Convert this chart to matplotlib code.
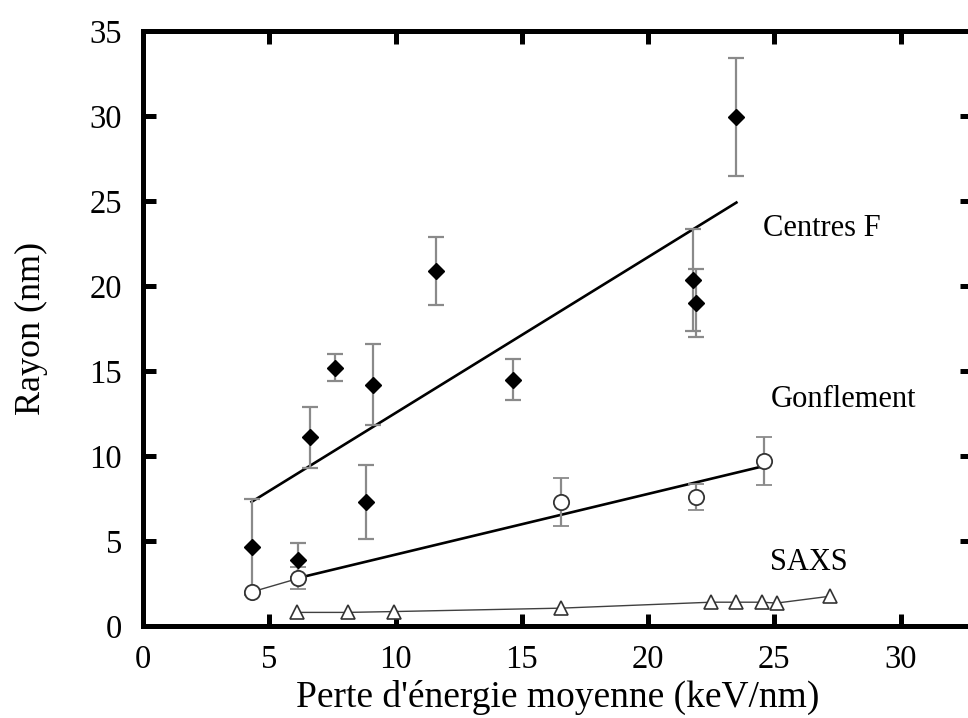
import numpy as np
import matplotlib
matplotlib.use("Agg")
import matplotlib.pyplot as plt

plt.rcParams['font.family'] = ['Liberation Serif', 'DejaVu Serif']

# Centres F (filled diamonds)
cf_x = [4.3, 6.15, 6.6, 7.6, 8.85, 9.1, 11.6, 14.65, 21.8, 21.9, 23.5]
cf_y = [4.65, 3.9, 11.1, 15.2, 7.3, 14.2, 20.9, 14.5, 20.35, 19.0, 29.95]
cf_err = [2.85, 1.0, 1.8, 0.8, 2.2, 2.4, 2.0, 1.2, 3.0, 2.0, 3.45]

# Gonflement (open circles)
gf_x = [4.3, 6.15, 16.55, 21.9, 24.6]
gf_y = [2.0, 2.8, 7.3, 7.6, 9.7]
gf_err = [0.0, 0.65, 1.4, 0.75, 1.4]

# SAXS (open triangles)
sx_x = [6.1, 8.1, 9.95, 16.55, 22.5, 23.5, 24.5, 25.1, 27.2]
sx_y = [0.8, 0.8, 0.85, 1.05, 1.4, 1.4, 1.4, 1.35, 1.75]

# linear fits: slope, intercept, x range
cf_fit = [0.917, 3.36]
cf_fit_range = [4.3, 23.5]
gf_fit = [0.357, 0.63]
gf_fit_range = [6.35, 24.4]

fig = plt.figure(figsize=(9.68, 7.18), dpi=100)
ax = fig.add_subplot(1, 1, 1)
ax.set_position([143 / 968, 92 / 718, 829 / 968, 595 / 718])

ax.set_xlim(0, 32.83)
ax.set_ylim(0, 35)
ax.set_xticks([0, 5, 10, 15, 20, 25, 30])
ax.set_yticks([0, 5, 10, 15, 20, 25, 30, 35])

for s in ax.spines.values():
    s.set_linewidth(3.6)
ax.tick_params(direction='in', length=9, width=3.6, top=True, right=True,
               labelsize=23.5)
ax.tick_params(axis='y', pad=15)
ax.tick_params(axis='x', pad=13)

ebar = dict(ecolor='#8a8a8a', elinewidth=1.6, capsize=6, capthick=1.6, linestyle='none')

# fit lines
xf = np.array(cf_fit_range)
ax.plot(xf, cf_fit[0] * xf + cf_fit[1], color='black', lw=1.9, zorder=2)
xg = np.array(gf_fit_range)
ax.plot(xg, gf_fit[0] * xg + gf_fit[1], color='black', lw=1.9, zorder=2)
ax.plot(gf_x[:2], gf_y[:2], color='#404040', lw=1.0, zorder=2)
ax.plot(sx_x, sx_y, color='#404040', lw=1.0, zorder=2)

ax.errorbar(cf_x, cf_y, yerr=cf_err, marker='D', ms=8.5, mfc='black', mec='black', **ebar, zorder=3)
ax.errorbar(gf_x, gf_y, yerr=gf_err, marker='o', ms=11, mfc='white', mec='#333333', mew=1.3, **ebar, zorder=3)
ax.plot(sx_x, sx_y, marker='^', ms=10, mfc='white', mec='#333333', mew=1.2, linestyle='none', zorder=3)

ax.text(24.55, 23.4, 'Centres F', fontsize=22, va='center')
ax.text(24.85, 13.3, 'Gonflement', fontsize=22, va='center')
ax.text(24.85, 3.75, 'SAXS', fontsize=22, va='center')

ax.set_xlabel("Perte d'énergie moyenne (keV/nm)", fontsize=27, labelpad=4)
ax.set_ylabel('Rayon (nm)', fontsize=26, labelpad=30)

plt.savefig('out.png', dpi=100)
